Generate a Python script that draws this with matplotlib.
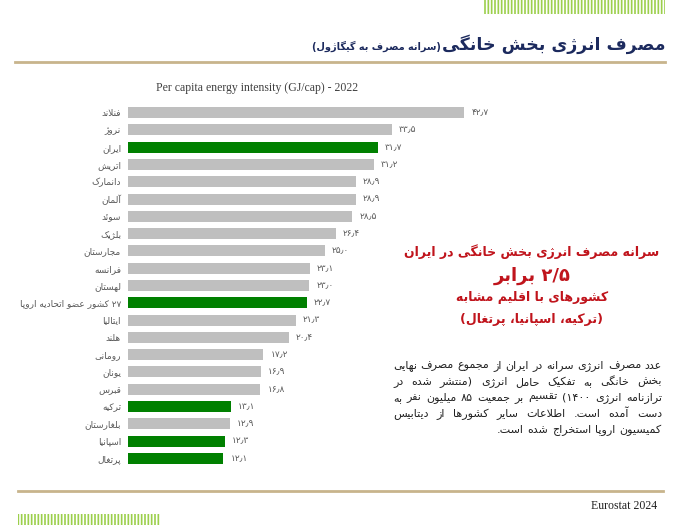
import re
import matplotlib
matplotlib.use('Agg')
import matplotlib.pyplot as plt
from matplotlib.patches import Rectangle
from matplotlib.lines import Line2D

# ---- data -------------------------------------------------------------
countries = ['فنلاند', 'نروژ', 'ایران', 'اتریش', 'دانمارک', 'آلمان', 'سوئد',
             'بلژیک', 'مجارستان', 'فرانسه', 'لهستان',
             '۲۷ کشور عضو اتحادیه اروپا', 'ایتالیا', 'هلند', 'رومانی',
             'یونان', 'قبرس', 'ترکیه', 'بلغارستان', 'اسپانیا', 'پرتغال']
values = [42.7, 33.5, 31.7, 31.2, 28.9, 28.9, 28.5, 26.4, 25.0, 23.1, 23.0,
          22.7, 21.3, 20.4, 17.2, 16.9, 16.8, 13.1, 12.9, 12.3, 12.1]
highlight = ['ایران', '۲۷ کشور عضو اتحادیه اروپا', 'ترکیه', 'اسپانیا', 'پرتغال']

title_fa = 'مصرف انرژی بخش خانگی'
subtitle_fa = '(سرانه مصرف به گیگاژول)'
chart_title = 'Per capita energy intensity (GJ/cap) - 2022'
source = 'Eurostat 2024'
callout = ['سرانه مصرف انرژی بخش خانگی در ایران',
           '۲/۵ برابر',
           'کشورهای با اقلیم مشابه',
           '(ترکیه، اسپانیا، پرتغال)']
note = ['عدد مصرف انرژی سرانه در ایران از مجموع مصرف نهایی',
        'بخش خانگی به تفکیک حامل انرژی (منتشر شده در',
        'ترازنامه انرژی ۱۴۰۰) تقسیم بر جمعیت ۸۵ میلیون نفر به',
        'دست آمده است. اطلاعات سایر کشورها از دیتابیس',
        'کمیسیون اروپا استخراج شده است.']

# ---- minimal persian shaping (no arabic_reshaper available) -----------
# iso, fin, ini, med
FORMS = {
    'آ': (0xFE81, 0xFE82, None, None), 'أ': (0xFE83, 0xFE84, None, None),
    'ؤ': (0xFE85, 0xFE86, None, None), 'إ': (0xFE87, 0xFE88, None, None),
    'ئ': (0xFE89, 0xFE8A, 0xFE8B, 0xFE8C), 'ا': (0xFE8D, 0xFE8E, None, None),
    'ب': (0xFE8F, 0xFE90, 0xFE91, 0xFE92), 'ة': (0xFE93, 0xFE94, None, None),
    'ت': (0xFE95, 0xFE96, 0xFE97, 0xFE98), 'ث': (0xFE99, 0xFE9A, 0xFE9B, 0xFE9C),
    'ج': (0xFE9D, 0xFE9E, 0xFE9F, 0xFEA0), 'ح': (0xFEA1, 0xFEA2, 0xFEA3, 0xFEA4),
    'خ': (0xFEA5, 0xFEA6, 0xFEA7, 0xFEA8), 'د': (0xFEA9, 0xFEAA, None, None),
    'ذ': (0xFEAB, 0xFEAC, None, None), 'ر': (0xFEAD, 0xFEAE, None, None),
    'ز': (0xFEAF, 0xFEB0, None, None), 'س': (0xFEB1, 0xFEB2, 0xFEB3, 0xFEB4),
    'ش': (0xFEB5, 0xFEB6, 0xFEB7, 0xFEB8), 'ص': (0xFEB9, 0xFEBA, 0xFEBB, 0xFEBC),
    'ض': (0xFEBD, 0xFEBE, 0xFEBF, 0xFEC0), 'ط': (0xFEC1, 0xFEC2, 0xFEC3, 0xFEC4),
    'ظ': (0xFEC5, 0xFEC6, 0xFEC7, 0xFEC8), 'ع': (0xFEC9, 0xFECA, 0xFECB, 0xFECC),
    'غ': (0xFECD, 0xFECE, 0xFECF, 0xFED0), 'ف': (0xFED1, 0xFED2, 0xFED3, 0xFED4),
    'ق': (0xFED5, 0xFED6, 0xFED7, 0xFED8), 'ك': (0xFED9, 0xFEDA, 0xFEDB, 0xFEDC),
    'ل': (0xFEDD, 0xFEDE, 0xFEDF, 0xFEE0), 'م': (0xFEE1, 0xFEE2, 0xFEE3, 0xFEE4),
    'ن': (0xFEE5, 0xFEE6, 0xFEE7, 0xFEE8), 'ه': (0xFEE9, 0xFEEA, 0xFEEB, 0xFEEC),
    'و': (0xFEED, 0xFEEE, None, None), 'ى': (0xFEEF, 0xFEF0, None, None),
    'ي': (0xFEF1, 0xFEF2, 0xFEF3, 0xFEF4),
    'پ': (0xFB56, 0xFB57, 0xFB58, 0xFB59), 'چ': (0xFB7A, 0xFB7B, 0xFB7C, 0xFB7D),
    'ژ': (0xFB8A, 0xFB8B, None, None), 'ک': (0xFB8E, 0xFB8F, 0xFB90, 0xFB91),
    'گ': (0xFB92, 0xFB93, 0xFB94, 0xFB95), 'ی': (0xFBFC, 0xFBFD, 0xFBFE, 0xFBFF),
}
LAM_ALEF = {'ا': (0xFEFB, 0xFEFC), 'آ': (0xFEF5, 0xFEF6),
            'أ': (0xFEF7, 0xFEF8), 'إ': (0xFEF9, 0xFEFA)}


def joins_next(c):
    return c in FORMS and FORMS[c][2] is not None


def shape(s):
    out = []
    i = 0
    while i < len(s):
        c = s[i]
        if c not in FORMS:
            if c != '\u200c':
                out.append(c)
            i += 1
            continue
        prev = s[i - 1] if i > 0 else ''
        cp = joins_next(prev)
        if c == 'ل' and i + 1 < len(s) and s[i + 1] in LAM_ALEF:
            iso, fin = LAM_ALEF[s[i + 1]]
            out.append(chr(fin if cp else iso))
            i += 2
            continue
        nxt = s[i + 1] if i + 1 < len(s) else ''
        cn = joins_next(c) and nxt in FORMS
        iso, fin, ini, med = FORMS[c]
        if cp and cn:
            out.append(chr(med))
        elif cp:
            out.append(chr(fin))
        elif cn:
            out.append(chr(ini))
        else:
            out.append(chr(iso))
        i += 1
    return ''.join(out)


def fa(s):
    # shape then lay out right to left, number runs stay left to right
    tokens = re.findall(r'[0-9۰-۹]+(?:[٫/.,][0-9۰-۹]+)*|.', shape(s))
    mirror = {'(': ')', ')': '('}
    return ''.join(mirror.get(t, t) for t in tokens[::-1])


def fa_num(v):
    return f'{v:.1f}'.translate(str.maketrans('0123456789.', '۰۱۲۳۴۵۶۷۸۹٫'))


W, H = 696, 525


def fx(x):
    return x / W


def fy(y):
    return 1 - y / H


plt.rcParams['font.family'] = ['DejaVu Sans']
fig = plt.figure(figsize=(W / 100, H / 100), dpi=100)
fig.patch.set_facecolor('white')
renderer = fig.canvas.get_renderer()

# ---- bar chart --------------------------------------------------------
ax = fig.add_axes([fx(128), fy(467), fx(480) - fx(128), fy(104) - fy(467)])
colors = ['#008000' if c in highlight else '#bfbfbf' for c in countries]
ypos = list(range(len(countries)))
ax.barh(ypos, values, height=0.64, color=colors)
ax.set_ylim(len(countries) - 0.5, -0.5)
ax.set_xlim(0, 44.7)
ax.set_yticks(ypos)
ax.set_yticklabels([fa(c) for c in countries], fontsize=6.5, color='#595959')
ax.tick_params(axis='y', length=0, pad=5)
ax.set_xticks([])
for sp in ax.spines.values():
    sp.set_visible(False)
for i, v in enumerate(values):
    ax.text(v + 0.9, i, fa_num(v), va='center', ha='left', fontsize=6.5,
            color='#595959')

fig.text(fx(257), fy(88), chart_title, ha='center', va='center',
         family='Liberation Serif', fontsize=8.5, color='#404040')

# ---- header / footer --------------------------------------------------
fig.text(fx(665), fy(44), fa(title_fa), ha='right', va='center',
         fontsize=12.5, fontweight='bold', color='#1c2a5e')
fig.text(fx(441), fy(46), fa(subtitle_fa), ha='right', va='center',
         fontsize=7, fontweight='bold', color='#1c2a5e')
fig.add_artist(Line2D([fx(15), fx(665)], [fy(62), fy(62)], color='#c8b48c', lw=2))
fig.add_artist(Line2D([fx(18), fx(663)], [fy(491), fy(491)], color='#c8b48c', lw=2))
fig.text(fx(657), fy(506), source, ha='right', va='center',
         family='Liberation Serif', fontsize=8.5, color='#202020')

plt.rcParams['hatch.linewidth'] = 1.2
fig.add_artist(Rectangle((fx(483), fy(14)), fx(665) - fx(483), fy(0) - fy(14),
                         facecolor='white', edgecolor='#9ccf4c', hatch='|||||', lw=0))
fig.add_artist(Rectangle((fx(18), fy(525)), fx(160) - fx(18), fy(514) - fy(525),
                         facecolor='white', edgecolor='#9ccf4c', hatch='|||||', lw=0))

# ---- callout ----------------------------------------------------------
red = '#c0141c'
fig.text(fx(532), fy(252), fa(callout[0]), ha='center', va='center',
         fontsize=9, fontweight='bold', color=red)
fig.text(fx(532), fy(276), fa(callout[1]), ha='center', va='center',
         fontsize=13, fontweight='bold', color=red)
fig.text(fx(532), fy(298), fa(callout[2]), ha='center', va='center',
         fontsize=9, fontweight='bold', color=red)
fig.text(fx(532), fy(319), fa(callout[3]), ha='center', va='center',
         fontsize=9, fontweight='bold', color=red)

# justified paragraph, words laid right to left
x_right, x_left = 662, 393
for k, line in enumerate(note):
    words = line.split(' ')
    texts = [fig.text(0, fy(366 + 16 * k), fa(w), ha='left', va='center',
                      fontsize=8, color='#222222') for w in words]
    widths = [t.get_window_extent(renderer).width for t in texts]
    if k < len(note) - 1:
        gap = (x_right - x_left - sum(widths)) / (len(words) - 1)
    else:
        gap = 4
    x = x_right
    for t, w in zip(texts, widths):
        t.set_x(fx(x - w))
        x -= w + gap

fig.savefig('out.png', dpi=100, facecolor='white')
